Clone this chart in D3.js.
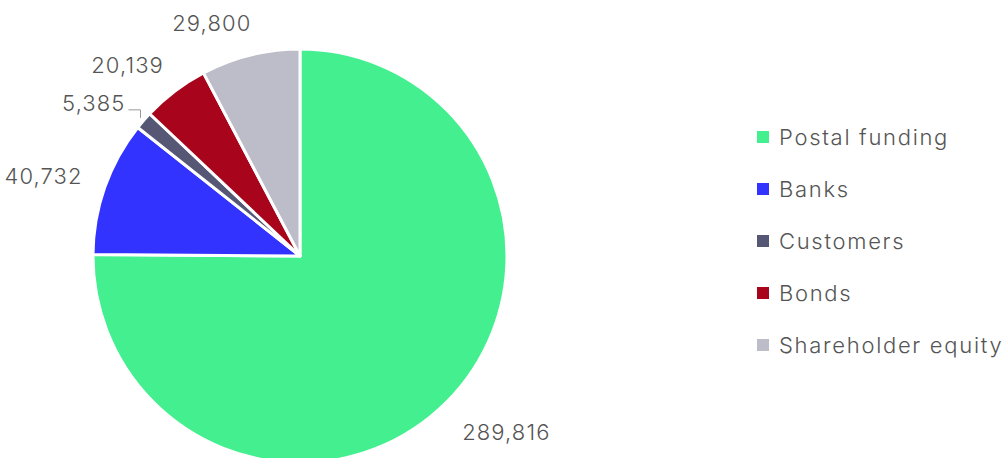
<!DOCTYPE html>
<html>
<head>
<meta charset="utf-8">
<script src="https://cdn.jsdelivr.net/npm/d3@7/dist/d3.min.js"></script>
<style>
  html, body { margin: 0; padding: 0; background: #fff; }
  svg { display: block; }
  text { font-family: Inter, "Open Sans", sans-serif; font-weight: 300; fill: #555; }
</style>
</head>
<body>
<svg id="chart" width="1005" height="458"></svg>
<script>
// Funding sources
const categories = ["Postal funding", "Banks", "Customers", "Bonds", "Shareholder equity"];
const values = [289816, 40732, 5385, 20139, 29800];
const colors = ["#43ef8f", "#3333ff", "#555775", "#a8041b", "#bdbdca"];

const svg = d3.select("#chart");
const cx = 300, cy = 256, radius = 207, labelRadius = 240;

const data = categories.map((c, i) => ({ name: c, value: values[i], color: colors[i] }));

const pie = d3.pie().sort(null).value(d => d.value);
const arc = d3.arc().innerRadius(0).outerRadius(radius);
const arcs = pie(data);

const g = svg.append("g").attr("transform", `translate(${cx},${cy})`);

g.selectAll("path.slice")
  .data(arcs)
  .join("path")
  .attr("class", "slice")
  .attr("d", arc)
  .attr("fill", d => d.data.color)
  .attr("stroke", "#fff")
  .attr("stroke-width", 3)
  .attr("stroke-linejoin", "round");

const fmt = d3.format(",");
const mid = d => (d.startAngle + d.endAngle) / 2;
const pt = (a, r) => [Math.sin(a) * r, -Math.cos(a) * r];

// Value labels around the pie
arcs.forEach(d => {
  const a = mid(d);
  let [x, y] = pt(a, labelRadius);
  const right = Math.sin(a) > 0;
  x += right ? -7 : 9;
  if (right) y += 6;
  const small = (d.endAngle - d.startAngle) < 0.1;
  if (small) {
    // short elbow connector for the thin slice
    const [ax, ay] = pt(a, radius + 4);
    const ly = ay - 8;
    g.append("polyline")
      .attr("points", [[ax, ay], [ax, ly], [ax - 12, ly]].map(p => p.join(",")).join(" "))
      .attr("fill", "none")
      .attr("stroke", "#999")
      .attr("stroke-width", 1);
    x = ax - 15;
    y = ly - 7;
  }
  g.append("text")
    .attr("x", x)
    .attr("y", y)
    .attr("dy", "0.35em")
    .attr("text-anchor", right ? "start" : "end")
    .attr("font-size", 22)
    .attr("letter-spacing", 1.1)
    .text(fmt(d.data.value));
});

// Legend
const legend = svg.append("g").attr("transform", "translate(757,137)");
const rows = legend.selectAll("g")
  .data(data)
  .join("g")
  .attr("transform", (d, i) => `translate(0,${i * 52})`);
rows.append("rect")
  .attr("x", 0).attr("y", -6)
  .attr("width", 12).attr("height", 12)
  .attr("fill", d => d.color);
rows.append("text")
  .attr("x", 22)
  .attr("y", 0)
  .attr("dy", "0.35em")
  .attr("font-size", 22)
  .attr("letter-spacing", 1.7)
  .text(d => d.name);
</script>
</body>
</html>
